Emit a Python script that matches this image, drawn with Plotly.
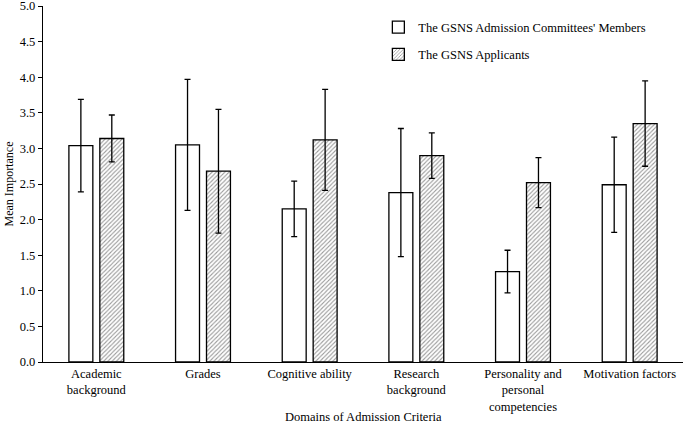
import plotly.graph_objects as go

categories = ["Academic<br>background", "Grades", "Cognitive ability", "Research<br>background",
              "Personality and<br>personal<br>competencies", "Motivation factors"]
committee_mean = [3.04, 3.05, 2.15, 2.38, 1.27, 2.49]
committee_err = [0.65, 0.92, 0.39, 0.90, 0.30, 0.67]
applicant_mean = [3.14, 2.68, 3.12, 2.90, 2.52, 3.35]
applicant_err = [0.33, 0.87, 0.71, 0.32, 0.35, 0.60]
series_names = ["The GSNS Admission Committees' Members", "The GSNS Applicants"]
x_title = "Domains of Admission Criteria"
y_title = "Mean Importance"

FONT = "Liberation Serif, Times New Roman, serif"

fig = go.Figure()
fig.add_trace(go.Bar(
    x=categories, y=committee_mean, name=series_names[0], legendgroup="a",
    marker=dict(color="white", line=dict(color="black", width=1.3)),
    error_y=dict(type="data", array=committee_err, color="black", thickness=1.3, width=3),
))
fig.add_trace(go.Bar(
    x=categories, y=applicant_mean, name=series_names[1], legendgroup="b",
    marker=dict(color="white", line=dict(color="black", width=1.3),
                pattern=dict(shape="/", fgcolor="#333333", bgcolor="white", size=3, solidity=0.35)),
    error_y=dict(type="data", array=applicant_err, color="black", thickness=1.3, width=3),
))

fig.update_layout(
    width=685, height=425,
    margin=dict(l=43, r=2, t=6, b=63),
    paper_bgcolor="white", plot_bgcolor="white",
    font=dict(family=FONT, size=12, color="black"),
    barmode="group", bargap=0.42, bargroupgap=0.226,
    showlegend=True,
    legend=dict(x=0.524, y=0.982, xanchor="left", yanchor="top", bgcolor="rgba(0,0,0,0)",
                font=dict(family=FONT, size=12.5), tracegroupgap=8, itemwidth=30),
    xaxis=dict(showline=True, linecolor="black", linewidth=1.3, ticks="", showgrid=False,
               automargin=False, tickfont=dict(size=12.5)),
    yaxis=dict(range=[0, 5.001], tick0=0, dtick=0.5, tickformat=".1f", showline=True, linecolor="black",
               linewidth=1.3, ticks="outside", ticklen=4, tickcolor="black", showgrid=False,
               zeroline=False, automargin=False, ticklabeloverflow="allow",
               tickfont=dict(size=12.5),
               title=dict(text=y_title, font=dict(size=12), standoff=3)),
    annotations=[dict(text=x_title, xref="paper", yref="paper", x=0.5, y=-0.1545,
                      xanchor="center", yanchor="middle", showarrow=False, font=dict(size=12.5))],
)

fig.write_html("out.html", config={"displayModeBar": False},
               post_script="document.body.style.margin='0px';")
